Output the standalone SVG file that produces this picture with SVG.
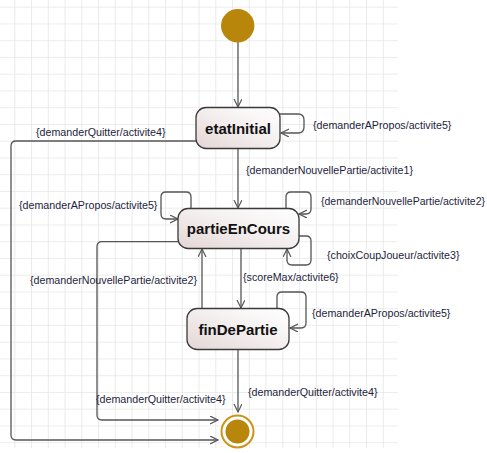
<svg xmlns="http://www.w3.org/2000/svg" width="487" height="453" viewBox="0 0 487 453">
<style>
.lbl{font-family:"Liberation Sans",Arial,sans-serif;font-size:10.7px;fill:#1e1e3c}
.nm{font-family:"Liberation Sans",Arial,sans-serif;font-size:15px;font-weight:bold;fill:#111;text-anchor:middle}
.st{fill:url(#g);stroke:#3a3a3a;stroke-width:1.3}
.cn{fill:none;stroke:#555;stroke-width:1.3}
</style>
<defs>
<pattern id="grid" x="14.3" y="6.7" width="16.75" height="16.75" patternUnits="userSpaceOnUse">
<path d="M0,0 V16.75 M0,0 H16.75" fill="none" stroke="#e6e6e6" stroke-width="1.6"/>
</pattern>
<linearGradient id="g" x1="0" y1="1" x2="1" y2="0">
<stop offset="0" stop-color="#e4d6d6"/>
<stop offset="0.6" stop-color="#f6f2f2"/>
<stop offset="1" stop-color="#ffffff"/>
</linearGradient>
<marker id="a" markerWidth="10" markerHeight="10" refX="8" refY="4" orient="auto" markerUnits="userSpaceOnUse">
<path d="M0,0 L8,4 L0,8" fill="none" stroke="#555" stroke-width="1.2"/>
</marker>
</defs>
<rect width="487" height="453" fill="#fff"/>
<rect x="0" y="0" width="398" height="448" fill="url(#grid)"/>
<g id="connectors" class="cn">
<path d="M238,42 V107" marker-end="url(#a)"/>
<path d="M280,114 H298 Q304,114 304,120 V127 Q304,133 298,133 H281" marker-end="url(#a)"/>
<path d="M238,148 V208" marker-end="url(#a)"/>
<path d="M191,208 V197 Q191,192 186,192 H166 Q161,192 161,197 V214 Q161,219 166,219 H178" marker-end="url(#a)"/>
<path d="M286,208 V197 Q286,192 291,192 H306 Q311,192 311,197 V209 Q311,214 306,214 H299" marker-end="url(#a)"/>
<path d="M299,236 H306 Q311,236 311,241 V260 Q311,265 306,265 H292 Q287,265 287,260 V249" marker-end="url(#a)"/>
<path d="M241,248 V308" marker-end="url(#a)"/>
<path d="M202,308 V249" marker-end="url(#a)"/>
<path d="M277,308 V297 Q277,292 282,292 H301 Q306,292 306,297 V323 Q306,328 301,328 H290" marker-end="url(#a)"/>
<path d="M238,349 V412" marker-end="url(#a)"/>
<path d="M178,241.7 H102 Q97,241.7 97,247 V415 Q97,420 102,420 H218" marker-end="url(#a)"/>
<path d="M196,141 H16 Q11,141 11,146 V435 Q11,440 16,440 H218" marker-end="url(#a)"/>
</g>
<g id="labels">
<text class="lbl" x="36" y="136">{demanderQuitter/activite4}</text>
<text class="lbl" x="313" y="129">{demanderAPropos/activite5}</text>
<text class="lbl" x="246" y="173.5">{demanderNouvellePartie/activite1}</text>
<text class="lbl" x="19" y="208.5">{demanderAPropos/activite5}</text>
<text class="lbl" x="321" y="205" textLength="164" lengthAdjust="spacingAndGlyphs">{demanderNouvellePartie/activite2}</text>
<text class="lbl" x="327" y="258.5">{choixCoupJoueur/activite3}</text>
<text class="lbl" x="30" y="284">{demanderNouvellePartie/activite2}</text>
<text class="lbl" x="243" y="281">{scoreMax/activite6}</text>
<text class="lbl" x="312" y="317">{demanderAPropos/activite5}</text>
<text class="lbl" x="248" y="396">{demanderQuitter/activite4}</text>
<text class="lbl" x="96" y="402.5">{demanderQuitter/activite4}</text>
</g>
<g id="initial"><circle cx="237.7" cy="25.7" r="16.7" fill="#b8860b"/></g>
<g id="etatInitial"><rect class="st" x="196" y="107.5" width="84" height="41" rx="10"/><text class="nm" x="238" y="133.5">etatInitial</text></g>
<g id="partieEnCours"><rect class="st" x="178" y="208.5" width="121" height="40" rx="10"/><text class="nm" x="238.5" y="234">partieEnCours</text></g>
<g id="finDePartie"><rect class="st" x="187" y="308.5" width="102" height="41" rx="10"/><text class="nm" x="238" y="334.5">finDePartie</text></g>
<g id="final"><circle cx="237.5" cy="431.5" r="16" fill="#fff" stroke="#c8961a" stroke-width="2"/><circle cx="237.5" cy="431.5" r="12" fill="#b8860b"/></g>
</svg>
